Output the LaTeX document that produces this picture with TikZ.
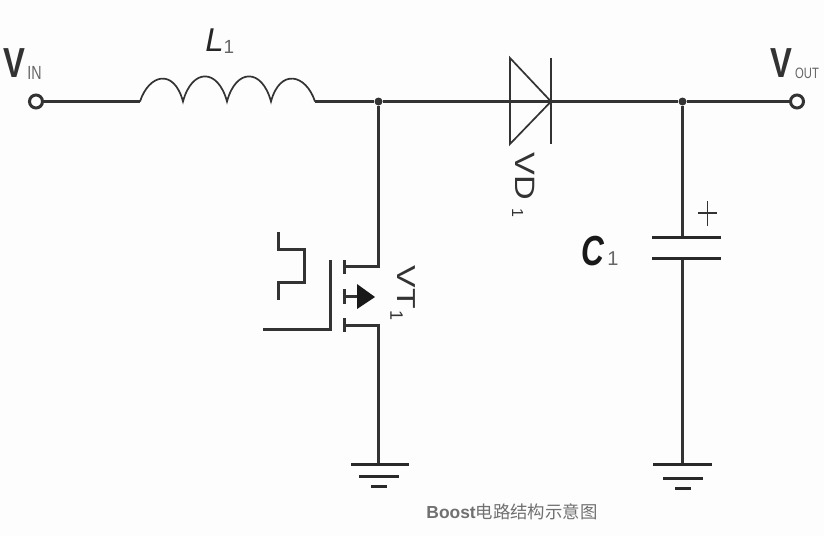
\documentclass[tikz,border=0pt]{standalone}
\usepackage{fontspec}
\setmainfont{Liberation Sans}
\newfontfamily\cjkfont{Noto Sans CJK SC}
\definecolor{wirecol}{HTML}{333333}
\definecolor{bgcol}{HTML}{FDFDFD}
\definecolor{subcol}{HTML}{666666}
\definecolor{capcol}{HTML}{707070}
\newcommand{\fs}[1]{\fontsize{#1}{#1}\selectfont}
\tikzset{
  wire/.style={draw=wirecol,line width=2.5pt},
  thinwire/.style={draw=wirecol,line width=1.7pt},
  plate/.style={draw=wirecol!80!black,line width=3pt},
  dotnode/.style={circle,fill=wirecol,inner sep=0pt,minimum size=8pt},
  term/.style={circle,draw=wirecol,line width=3pt,fill=bgcol,inner sep=0pt,minimum size=13pt},
  bigv/.style={inner sep=0pt,text=black!80,font=\bfseries\fs{42},xscale=.78,transform shape},
  sublab/.style={inner sep=0pt,text=subcol,font=\fs{19},xscale=.75,transform shape},
  rotlab/.style={inner sep=0pt,text=wirecol,rotate=-90,anchor=center}
}
\begin{document}
\begin{tikzpicture}[x=1pt,y=-1pt]
\useasboundingbox (0,0) rectangle (824,536);
\fill[bgcol] (0,0) rectangle (824,536);
% coordinates
\coordinate (Lstart) at (140,101.5);
\coordinate (Lend) at (315,101.5);
\node[dotnode] (J1) at (378.5,101.5) {};
\node[dotnode] (J2) at (682.5,101.5) {};
\coordinate (DK) at (551,101.5);
\coordinate (DT) at (510,58);
\coordinate (DB) at (510,144);
\coordinate (KT) at (551,58);
\coordinate (KB) at (551,144);
\coordinate (C1a) at (682.5,237);
\coordinate (C1b) at (682.5,258);
\coordinate (G1) at (378.5,464);
\coordinate (G2) at (682.5,464);
\coordinate (Dr) at (378.5,266.5);
\coordinate (Dr2) at (344.5,266.5);
\coordinate (Sr) at (378.5,325.5);
\coordinate (Sr2) at (344.5,325.5);
% wires
\node[term] (Vin) at (36,101.5) {};
\node[term] (Vout) at (797,101.5) {};
\draw[wire] (Vin) -- (Lstart);
\draw[wire] (Lend) -- (J1) -- (DK) -- (J2) -- (Vout);
\draw[thinwire] (Lstart)
  .. controls (149,74) and (174,68) .. (183,101.5)
  .. controls (192,68) and (218,68) .. (227,101.5)
  .. controls (236,68) and (262,68) .. (271,101.5)
  .. controls (280,68) and (306,74) .. (315,101.5);
% diode
\draw[thinwire,line join=miter] (DK) -- (DT) -- (DB) -- cycle;
\draw[draw=wirecol,line width=2.8pt] (KT) -- (KB);
% capacitor
\draw[wire] (J2) -- (C1a);
\draw[wire] (C1b) -- (G2);
\draw[plate] (652,237) -- (721,237);
\draw[plate] (652,258) -- (721,258);
\draw[draw=wirecol,line width=1.2pt] (698,213) -- (717,213);
\draw[draw=wirecol,line width=1.2pt] (707.5,201) -- (707.5,226);
% MOSFET
\draw[wire] (J1) -- (Dr) -- (Dr2);
\draw[wire] (Sr2) -- (Sr) -- (G1);
\draw[wire] (344.5,260) -- (344.5,274);
\draw[wire] (344.5,289) -- (344.5,304);
\draw[wire] (344.5,318) -- (344.5,332);
\draw[wire] (344.5,296.5) -- (358,296.5);
\fill[black!90] (357,284) -- (375,297) -- (357,309) -- cycle;
\draw[wire,line join=miter] (330.5,260) -- (330.5,329.5) -- (263,329.5);
\draw[wire,line join=miter] (278.5,232) -- (278.5,249.5) -- (304.5,249.5) -- (304.5,282.5) -- (278.5,282.5) -- (278.5,300);
% grounds
\draw[plate] (351,464) -- (409,464);
\draw[plate] (359,476) -- (399,476);
\draw[plate] (371,486) -- (387,486);
\draw[plate] (653,464) -- (712,464);
\draw[plate] (663,478) -- (703,478);
\draw[plate] (675,488) -- (691,488);
% labels
\node[bigv] (tV1) at (14.5,63) {V};
\node[sublab] (tIN) at (34.5,73) {IN};
\node[bigv] (tV2) at (781.5,63) {V};
\node[sublab,font=\fs{15}] (tOUT) at (807,73) {OUT};
\node[inner sep=0pt,text=black!85,font=\itshape\fs{33}] (tL) at (214.5,40) {L};
\node[inner sep=0pt,text=subcol,font=\fs{19}] (tL1) at (229,47) {1};
\node[inner sep=0pt,text=black!90,font=\bfseries\itshape\fs{42},xscale=.75,transform shape] (tC) at (592.5,251) {C};
\node[inner sep=0pt,text=subcol,font=\fs{20}] (tC1) at (613,259) {1};
\node[rotlab,font=\fs{28}] (tVD) at (525,176) {\scalebox{1.22}[1]{VD}};
\node[rotlab,font=\fs{16}] (tVD1) at (517.5,213) {1};
\node[rotlab,font=\fs{26}] (tVT) at (406.5,287.5) {\scalebox{1.3}[1]{VT}};
\node[rotlab,font=\fs{18}] (tVT1) at (396.5,315) {1};
\node[inner sep=0pt,text=capcol,font=\bfseries\fs{17.4}] (tcap) at (512,511.5) {Boost{\cjkfont\mdseries 电路结构示意图}};
\end{tikzpicture}
\end{document}
